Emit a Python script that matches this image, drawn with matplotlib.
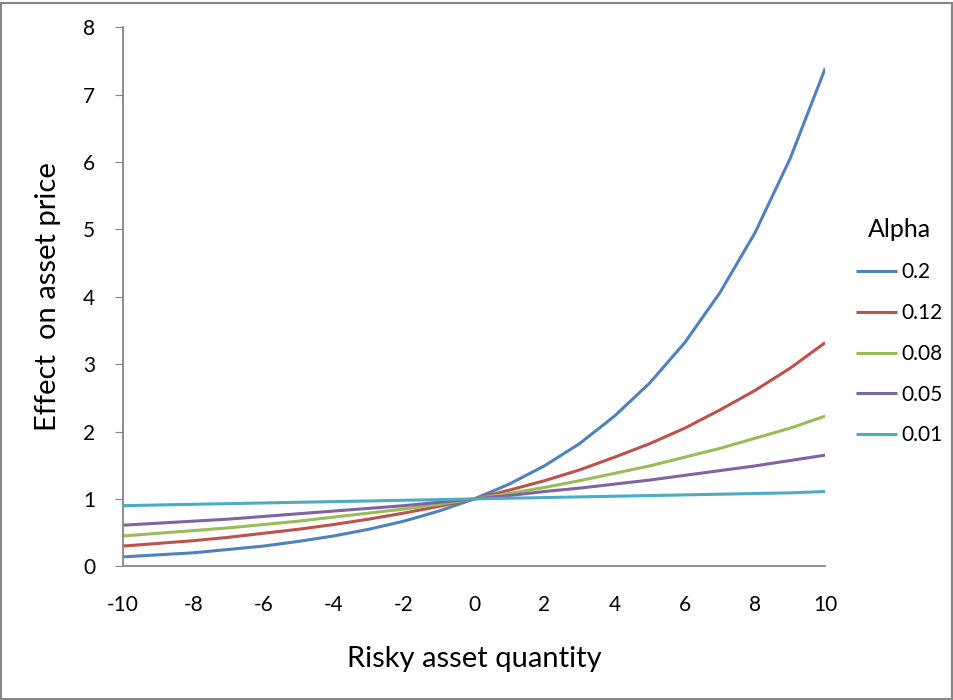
import matplotlib.pyplot as plt
from matplotlib.patches import Rectangle

plt.rcParams['font.family'] = ['Lato', 'DejaVu Sans']
plt.rcParams['axes.unicode_minus'] = False

x = list(range(-10, 11))
alpha_labels = ['0.2', '0.12', '0.08', '0.05', '0.01']
a_020 = [0.14, 0.17, 0.20, 0.25, 0.30, 0.37, 0.45, 0.55, 0.67, 0.82, 1.00,
         1.22, 1.49, 1.82, 2.23, 2.72, 3.32, 4.06, 4.95, 6.05, 7.39]
a_012 = [0.30, 0.34, 0.38, 0.43, 0.49, 0.55, 0.62, 0.70, 0.79, 0.89, 1.00,
         1.13, 1.27, 1.43, 1.62, 1.82, 2.05, 2.32, 2.61, 2.94, 3.32]
a_008 = [0.45, 0.49, 0.53, 0.57, 0.62, 0.67, 0.73, 0.79, 0.85, 0.92, 1.00,
         1.08, 1.17, 1.27, 1.38, 1.49, 1.62, 1.75, 1.90, 2.05, 2.23]
a_005 = [0.61, 0.64, 0.67, 0.70, 0.74, 0.78, 0.82, 0.86, 0.90, 0.95, 1.00,
         1.05, 1.11, 1.16, 1.22, 1.28, 1.35, 1.42, 1.49, 1.57, 1.65]
a_001 = [0.90, 0.91, 0.92, 0.93, 0.94, 0.95, 0.96, 0.97, 0.98, 0.99, 1.00,
         1.01, 1.02, 1.03, 1.04, 1.05, 1.06, 1.07, 1.08, 1.09, 1.11]
series = [a_020, a_012, a_008, a_005, a_001]
colors = ['#4F81BD', '#C0504D', '#9BBB59', '#8064A2', '#4BACC6']

fig = plt.figure(figsize=(9.54, 7.0), dpi=100)
ax = fig.add_axes([0.129, 0.191, 0.736, 0.770])

for ys, lab, c in zip(series, alpha_labels, colors):
    ax.plot(x, ys, color=c, lw=2.2, label=lab, solid_capstyle='butt')

ax.set_xlim(-10, 10)
ax.set_ylim(0, 8)
ax.set_xticks(range(-10, 11, 2))
ax.set_yticks(range(0, 9))
for s in ['top', 'right']:
    ax.spines[s].set_visible(False)
for s in ['left', 'bottom']:
    ax.spines[s].set_color('#868686')
    ax.spines[s].set_linewidth(1.3)
ax.tick_params(axis='y', length=6, color='#868686', labelsize=15, pad=14)
ax.tick_params(axis='x', length=0, labelsize=15, pad=21)

ax.set_xlabel('Risky asset quantity', fontsize=21, labelpad=22)
ax.set_ylabel('Effect  on asset price', fontsize=21, labelpad=16)

fig.legend(loc='upper left', bbox_to_anchor=(0.886, 0.703), frameon=False,
           title='Alpha', title_fontsize=18, fontsize=15, handlelength=2.0,
           handletextpad=0.2, labelspacing=1.0, borderpad=0)

fig.patches.append(Rectangle((0.001, 0.001), 0.997, 0.995, transform=fig.transFigure,
                             fill=False, edgecolor='#868686', lw=1.5))

fig.savefig('out.png', dpi=100)
